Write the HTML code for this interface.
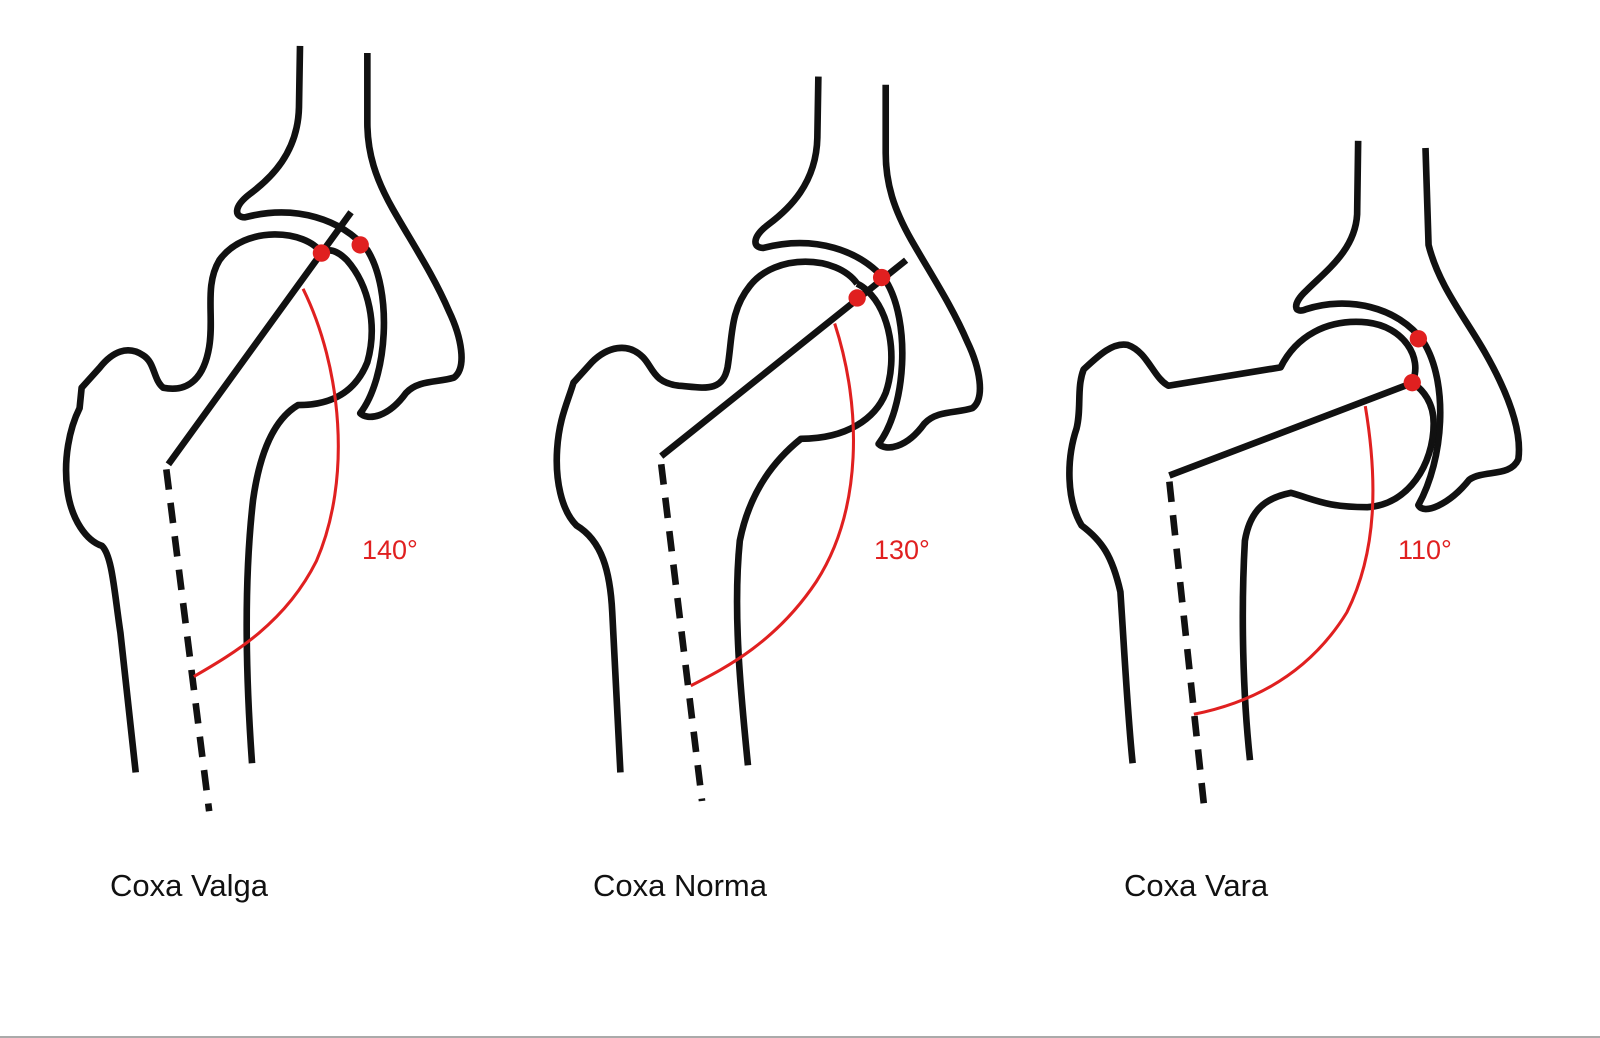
<!DOCTYPE html>
<html><head><meta charset="utf-8"><style>
html,body{margin:0;padding:0;background:#fff;}
svg{display:block}
</style></head><body>
<svg width="1600" height="1038" viewBox="0 0 1600 1038" xmlns="http://www.w3.org/2000/svg">
<rect width="1600" height="1038" fill="#fff"/>
<line x1="0" y1="1037" x2="1600" y2="1037" stroke="#aaa" stroke-width="2"/>
<g transform="scale(1.0204)" fill="none" stroke-linecap="butt" stroke-linejoin="round">
<!-- Figure 1 -->
<g stroke="#111" stroke-width="6.5">
<path d="M294,45 L293,105 C292,150 265,175 245,190 C228,203 230,213 240,213 C290,200 335,215 360,245 C385,285 380,370 353,405 C360,412 380,410 398,385 C410,372 430,375 445,370 C458,360 452,330 440,305 C425,270 405,240 385,205 C368,175 360,150 360,120 L360,52"/>
<path d="M315,248 C300,225 240,220 215,255 C200,280 210,310 205,340 C200,370 185,385 160,380 C150,372 152,355 140,348 C125,338 110,345 98,360 L80,380 L78,400 C68,420 62,450 66,480 C70,510 85,530 100,535 C110,545 112,580 118,620 L133,757"/>
<path d="M247,748 C240,650 240,560 248,490 C255,440 270,410 292,397 C330,397 350,380 360,355 C370,320 362,280 340,255 C330,245 322,243 315,248"/>
<line x1="165" y1="455" x2="344" y2="208"/>
<line x1="163" y1="460" x2="205" y2="795" stroke-dasharray="20,13"/>
</g>
<path d="M297,283 C335,360 345,470 310,550 C280,610 230,640 190,663" stroke="#e02020" stroke-width="3"/>
<circle cx="315" cy="248" r="8.5" fill="#e02020"/>
<circle cx="353" cy="240" r="8.5" fill="#e02020"/>
<!-- Figure 2 -->
<g stroke="#111" stroke-width="6.5">
<path d="M802,75 L801,135 C800,180 773,205 753,220 C736,233 738,243 748,243 C798,230 843,245 868,275 C893,315 888,400 861,435 C868,442 888,440 906,415 C918,402 938,405 953,400 C966,390 960,360 948,335 C933,300 913,270 893,235 C876,205 868,180 868,150 L868,83"/>
<path d="M840,278 C820,250 760,248 735,280 C715,305 718,330 713,360 C708,385 690,380 665,378 C640,375 640,360 630,350 C615,335 595,340 580,355 L562,375 C556,395 548,410 546,440 C544,470 550,500 565,515 C590,530 598,560 600,600 L608,757"/>
<path d="M733,750 C726,680 718,600 725,530 C735,480 760,450 785,430 C830,430 858,410 868,385 C880,350 872,305 850,285 C845,280 842,279 840,278"/>
<line x1="648" y1="447" x2="888" y2="255"/>
<line x1="648" y1="455" x2="688" y2="785" stroke-dasharray="20,13"/>
</g>
<path d="M818,317 C845,400 845,500 800,570 C760,630 710,655 677,672" stroke="#e02020" stroke-width="3"/>
<circle cx="840" cy="292" r="8.5" fill="#e02020"/>
<circle cx="864" cy="272" r="8.5" fill="#e02020"/>
<!-- Figure 3 -->
<g stroke="#111" stroke-width="6.5">
<path d="M1331,138 L1330,210 C1328,245 1300,265 1280,285 C1266,298 1268,308 1280,303 C1320,290 1370,300 1395,335 C1420,375 1415,450 1390,495 C1395,505 1420,495 1440,470 C1455,460 1480,468 1488,450 C1492,420 1475,380 1455,345 C1435,310 1410,280 1400,240 L1397,145"/>
<path d="M1384,375 C1395,350 1375,320 1340,316 C1300,312 1270,330 1255,360 L1145,378 C1130,370 1125,345 1105,338 C1090,335 1075,350 1062,362 C1055,380 1060,400 1055,420 C1045,450 1045,490 1060,515 C1080,530 1090,545 1098,580 C1102,640 1105,700 1110,748"/>
<path d="M1225,745 C1218,680 1216,600 1220,530 C1225,500 1240,488 1265,483 C1290,490 1300,497 1340,497 C1380,495 1405,455 1405,415 C1405,395 1395,382 1384,375"/>
<line x1="1146" y1="466" x2="1385" y2="375"/>
<line x1="1146" y1="472" x2="1180" y2="790" stroke-dasharray="20,13"/>
</g>
<path d="M1338,398 C1350,470 1350,540 1320,600 C1280,665 1220,690 1170,700" stroke="#e02020" stroke-width="3"/>
<circle cx="1390" cy="332" r="8.5" fill="#e02020"/>
<circle cx="1384" cy="375" r="8.5" fill="#e02020"/>
</g>
<g font-family="'Liberation Sans', sans-serif">
<text x="362" y="559" font-size="27" fill="#e02020">140°</text>
<text x="874" y="559" font-size="27" fill="#e02020">130°</text>
<text x="1398" y="559" font-size="27" fill="#e02020">110°</text>
<text x="110" y="896" font-size="31" fill="#111">Coxa Valga</text>
<text x="593" y="896" font-size="31" fill="#111">Coxa Norma</text>
<text x="1124" y="896" font-size="31" fill="#111">Coxa Vara</text>
</g>
</svg>
</body></html>
